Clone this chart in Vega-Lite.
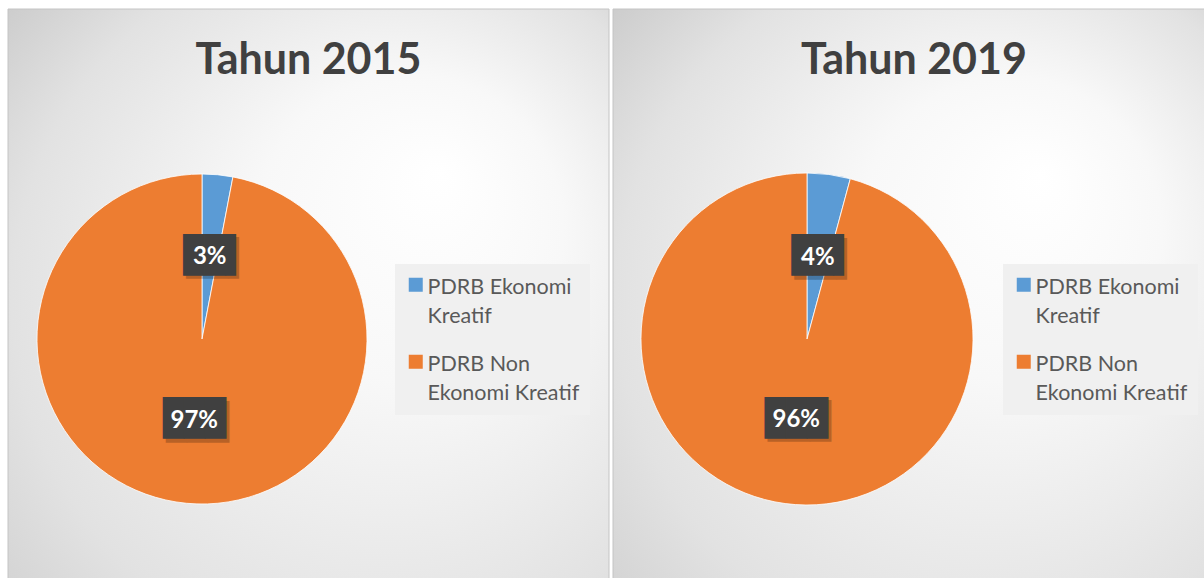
{
  "$schema": "https://vega.github.io/schema/vega-lite/v6.json",
  "padding": {"left": 7, "top": 8, "right": 0, "bottom": 0},
  "background": "#ffffff",
  "spacing": 2,
  "resolve": {"scale": {"color": "independent"}, "legend": {"color": "independent"}},
  "config": {"view": {"stroke": null}, "font": "Lato", "style": {"guide-label": {"lineHeight": 29, "dy": 9}}},
  "datasets": {
    "d2015": [
      {"kategori": "PDRB Ekonomi Kreatif", "nilai": 0.03},
      {"kategori": "PDRB Non Ekonomi Kreatif", "nilai": 0.97}
    ],
    "d2019": [
      {"kategori": "PDRB Ekonomi Kreatif", "nilai": 0.042},
      {"kategori": "PDRB Non Ekonomi Kreatif", "nilai": 0.958}
    ]
  },
  "hconcat": [
    {
      "width": 601,
      "height": 570,
      "title": {"text": "Tahun 2015", "font": "Lato", "fontSize": 43, "fontWeight": "bold", "color": "#404040", "anchor": "middle", "frame": "group", "baseline": "alphabetic", "offset": -108},
      "data": {"name": "d2015"},
      "layer": [
        {
          "data": {"values": [{}]},
          "mark": {"type": "rect", "stroke": "#c4c4c4", "strokeWidth": 1,
            "color": {"gradient": "radial", "x1": 0.72, "y1": 0.3, "r1": 0, "x2": 0.55, "y2": 0.6, "r2": 0.85,
              "stops": [{"offset": 0, "color": "#ffffff"}, {"offset": 0.3, "color": "#f8f8f8"}, {"offset": 0.7, "color": "#e2e2e2"}, {"offset": 1, "color": "#c6c6c6"}]}}
        },
        {
          "mark": {"type": "arc", "x": 194, "y": 330, "outerRadius": 165, "stroke": "#ffffff", "strokeWidth": 0.8},
          "encoding": {
            "theta": {"field": "nilai", "type": "quantitative", "stack": true},
            "color": {"field": "kategori", "type": "nominal",
              "scale": {"domain": ["PDRB Ekonomi Kreatif", "PDRB Non Ekonomi Kreatif"], "range": ["#5b9bd5", "#ed7d31"]},
              "legend": {"orient": "none", "legendX": 387, "legendY": 255, "title": null, "symbolType": "square", "symbolSize": 196, "symbolStrokeWidth": 0,
                "labelFont": "Lato", "labelFontSize": 21.5, "labelColor": "#595959", "labelOffset": 1, "labelLimit": 300, "labelBaseline": "alphabetic",
                "fillColor": "#f0f0f0", "padding": 10, "rowPadding": 23,
                "labelExpr": "datum.label == 'PDRB Ekonomi Kreatif' ? ['PDRB Ekonomi', 'Kreatif'] : ['PDRB Non', 'Ekonomi Kreatif']",
                "encode": {
                  "legend": {"fill": {"value": {"gradient": "linear", "x1": 0, "y1": 0, "x2": 1, "y2": 0, "stops": [{"offset": 0, "color": "#f5f5f5"}, {"offset": 1, "color": "#e8e8e8"}]}}}
                }}
            }
          }
        },
        {
          "mark": {"type": "text", "x": 194, "y": 330, "radius": 82, "font": "DejaVu Sans Mono", "fontSize": 35, "color": "#000000", "opacity": 0.22,
            "dx": {"expr": "datum.kategori == 'PDRB Ekonomi Kreatif' ? 8 : 3"}, "dy": 2},
          "encoding": {
            "theta": {"field": "nilai", "type": "quantitative", "stack": true},
            "detail": {"field": "kategori"},
            "text": {"condition": {"test": "datum.kategori == 'PDRB Ekonomi Kreatif'", "value": "██▌"}, "value": "███"}
          }
        },
        {
          "mark": {"type": "text", "x": 194, "y": 330, "radius": 82, "font": "DejaVu Sans Mono", "fontSize": 35, "color": "#404040",
            "dx": {"expr": "datum.kategori == 'PDRB Ekonomi Kreatif' ? 5 : 0"}, "dy": -1.5},
          "encoding": {
            "theta": {"field": "nilai", "type": "quantitative", "stack": true},
            "detail": {"field": "kategori"},
            "text": {"condition": {"test": "datum.kategori == 'PDRB Ekonomi Kreatif'", "value": "██▌"}, "value": "███"}
          }
        },
        {
          "mark": {"type": "text", "x": 194, "y": 330, "radius": 82, "font": "Lato", "fontSize": 24, "fontWeight": "bold", "color": "#ffffff"},
          "encoding": {
            "theta": {"field": "nilai", "type": "quantitative", "stack": true},
            "detail": {"field": "kategori"},
            "text": {"field": "nilai", "type": "quantitative", "format": ".0%"}
          }
        }
      ]
    },
    {
      "width": 594,
      "height": 570,
      "title": {"text": "Tahun 2019", "font": "Lato", "fontSize": 43, "fontWeight": "bold", "color": "#404040", "anchor": "middle", "frame": "group", "baseline": "alphabetic", "offset": -108, "dx": 4},
      "data": {"name": "d2019"},
      "layer": [
        {
          "data": {"values": [{}]},
          "mark": {"type": "rect", "stroke": "#c4c4c4", "strokeWidth": 1,
            "color": {"gradient": "radial", "x1": 0.72, "y1": 0.3, "r1": 0, "x2": 0.55, "y2": 0.6, "r2": 0.85,
              "stops": [{"offset": 0, "color": "#ffffff"}, {"offset": 0.3, "color": "#f8f8f8"}, {"offset": 0.7, "color": "#e2e2e2"}, {"offset": 1, "color": "#c6c6c6"}]}}
        },
        {
          "mark": {"type": "arc", "x": 194, "y": 330, "outerRadius": 166, "stroke": "#ffffff", "strokeWidth": 0.8},
          "encoding": {
            "theta": {"field": "nilai", "type": "quantitative", "stack": true},
            "color": {"field": "kategori", "type": "nominal",
              "scale": {"domain": ["PDRB Ekonomi Kreatif", "PDRB Non Ekonomi Kreatif"], "range": ["#5b9bd5", "#ed7d31"]},
              "legend": {"orient": "none", "legendX": 390, "legendY": 255, "title": null, "symbolType": "square", "symbolSize": 196, "symbolStrokeWidth": 0,
                "labelFont": "Lato", "labelFontSize": 21.5, "labelColor": "#595959", "labelOffset": 1, "labelLimit": 300, "labelBaseline": "alphabetic",
                "fillColor": "#f0f0f0", "padding": 10, "rowPadding": 23,
                "labelExpr": "datum.label == 'PDRB Ekonomi Kreatif' ? ['PDRB Ekonomi', 'Kreatif'] : ['PDRB Non', 'Ekonomi Kreatif']",
                "encode": {
                  "legend": {"fill": {"value": {"gradient": "linear", "x1": 0, "y1": 0, "x2": 1, "y2": 0, "stops": [{"offset": 0, "color": "#f5f5f5"}, {"offset": 1, "color": "#e8e8e8"}]}}}
                }}
            }
          }
        },
        {
          "mark": {"type": "text", "x": 194, "y": 330, "radius": 82, "font": "DejaVu Sans Mono", "fontSize": 35, "color": "#000000", "opacity": 0.22,
            "dx": {"expr": "datum.kategori == 'PDRB Ekonomi Kreatif' ? 8 : 3"}, "dy": 2},
          "encoding": {
            "theta": {"field": "nilai", "type": "quantitative", "stack": true},
            "detail": {"field": "kategori"},
            "text": {"condition": {"test": "datum.kategori == 'PDRB Ekonomi Kreatif'", "value": "██▌"}, "value": "███"}
          }
        },
        {
          "mark": {"type": "text", "x": 194, "y": 330, "radius": 82, "font": "DejaVu Sans Mono", "fontSize": 35, "color": "#404040",
            "dx": {"expr": "datum.kategori == 'PDRB Ekonomi Kreatif' ? 5 : 0"}, "dy": -1.5},
          "encoding": {
            "theta": {"field": "nilai", "type": "quantitative", "stack": true},
            "detail": {"field": "kategori"},
            "text": {"condition": {"test": "datum.kategori == 'PDRB Ekonomi Kreatif'", "value": "██▌"}, "value": "███"}
          }
        },
        {
          "mark": {"type": "text", "x": 194, "y": 330, "radius": 82, "font": "Lato", "fontSize": 24, "fontWeight": "bold", "color": "#ffffff"},
          "encoding": {
            "theta": {"field": "nilai", "type": "quantitative", "stack": true},
            "detail": {"field": "kategori"},
            "text": {"field": "nilai", "type": "quantitative", "format": ".0%"}
          }
        }
      ]
    }
  ]
}
